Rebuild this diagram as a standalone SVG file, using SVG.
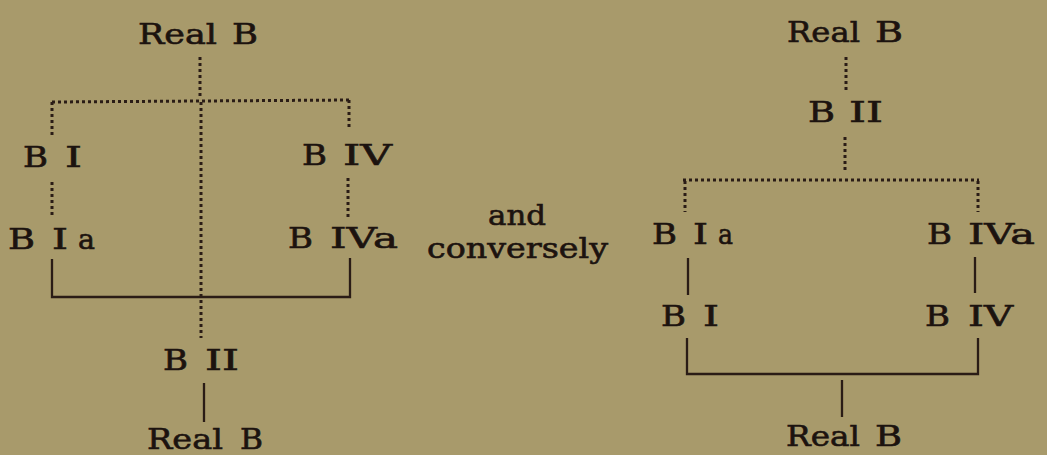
<svg xmlns="http://www.w3.org/2000/svg" width="1047" height="455" viewBox="0 0 1047 455">
<style>
text{font-family:"DejaVu Serif","Liberation Serif",serif;font-size:28px;fill:#1c130f;stroke:#1c130f;stroke-width:0.6}
.dot{fill:none;stroke:#2a1c16;stroke-width:3;stroke-dasharray:3 3;}
.sol{fill:none;stroke:#2a1c16;stroke-width:2.3;}
</style>
<rect width="1047" height="455" fill="#a89a6b"/>
<g id="connectors">
<path class="dot" d="M200 57V99M52 102L350 100M52 102V135M349 100V127M201 102V338M52 182V218M348 178V218"/>
<path class="sol" d="M52 259V297H350V258M204 383V422"/>
<path class="dot" d="M846 57V92M845 137V172M683 180H979M685 181V212M978 181V212"/>
<path class="sol" d="M688 258V295M975 257V293M687 338V374H978V338M842 380V417"/>
</g>
<g id="L-realB-top"><text y="44"><tspan x="138" textLength="79" lengthAdjust="spacingAndGlyphs">Real</tspan> <tspan x="232" textLength="26" lengthAdjust="spacingAndGlyphs">B</tspan></text></g>
<g id="L-BI"><text y="167"><tspan x="23" textLength="25" lengthAdjust="spacingAndGlyphs">B</tspan> <tspan x="65" textLength="17" lengthAdjust="spacingAndGlyphs">I</tspan></text></g>
<g id="L-BIV"><text y="165"><tspan x="302" textLength="25" lengthAdjust="spacingAndGlyphs">B</tspan> <tspan x="343" textLength="49" lengthAdjust="spacingAndGlyphs">IV</tspan></text></g>
<g id="L-BIa"><text y="249"><tspan x="8" textLength="27" lengthAdjust="spacingAndGlyphs">B</tspan> <tspan x="52" textLength="16" lengthAdjust="spacingAndGlyphs">I</tspan><tspan x="78" textLength="17" lengthAdjust="spacingAndGlyphs">a</tspan></text></g>
<g id="L-BIVa"><text y="248"><tspan x="288" textLength="25" lengthAdjust="spacingAndGlyphs">B</tspan> <tspan x="330" textLength="68" lengthAdjust="spacingAndGlyphs">IVa</tspan></text></g>
<g id="L-BII"><text y="370"><tspan x="163" textLength="25" lengthAdjust="spacingAndGlyphs">B</tspan> <tspan x="205" textLength="34" lengthAdjust="spacingAndGlyphs">II</tspan></text></g>
<g id="L-realB-bottom"><text y="449"><tspan x="147" textLength="76" lengthAdjust="spacingAndGlyphs">Real</tspan> <tspan x="240" textLength="23" lengthAdjust="spacingAndGlyphs">B</tspan></text></g>
<g id="conversely"><text x="488" y="225" textLength="58" lengthAdjust="spacingAndGlyphs">and</text><text x="427" y="258" textLength="181" lengthAdjust="spacingAndGlyphs">conversely</text></g>
<g id="R-realB-top"><text y="42"><tspan x="787" textLength="73" lengthAdjust="spacingAndGlyphs">Real</tspan> <tspan x="875" textLength="28" lengthAdjust="spacingAndGlyphs">B</tspan></text></g>
<g id="R-BII"><text y="122"><tspan x="808" textLength="27" lengthAdjust="spacingAndGlyphs">B</tspan> <tspan x="849" textLength="34" lengthAdjust="spacingAndGlyphs">II</tspan></text></g>
<g id="R-BIa"><text y="244"><tspan x="652" textLength="25" lengthAdjust="spacingAndGlyphs">B</tspan> <tspan x="693" textLength="15" lengthAdjust="spacingAndGlyphs">I</tspan><tspan x="718" textLength="15" lengthAdjust="spacingAndGlyphs">a</tspan></text></g>
<g id="R-BIVa"><text y="244"><tspan x="927" textLength="25" lengthAdjust="spacingAndGlyphs">B</tspan> <tspan x="968" textLength="67" lengthAdjust="spacingAndGlyphs">IVa</tspan></text></g>
<g id="R-BI"><text y="326"><tspan x="661" textLength="25" lengthAdjust="spacingAndGlyphs">B</tspan> <tspan x="703" textLength="16" lengthAdjust="spacingAndGlyphs">I</tspan></text></g>
<g id="R-BIV"><text y="326"><tspan x="925" textLength="25" lengthAdjust="spacingAndGlyphs">B</tspan> <tspan x="968" textLength="45" lengthAdjust="spacingAndGlyphs">IV</tspan></text></g>
<g id="R-realB-bottom"><text y="446"><tspan x="786" textLength="74" lengthAdjust="spacingAndGlyphs">Real</tspan> <tspan x="875" textLength="27" lengthAdjust="spacingAndGlyphs">B</tspan></text></g>
</svg>
